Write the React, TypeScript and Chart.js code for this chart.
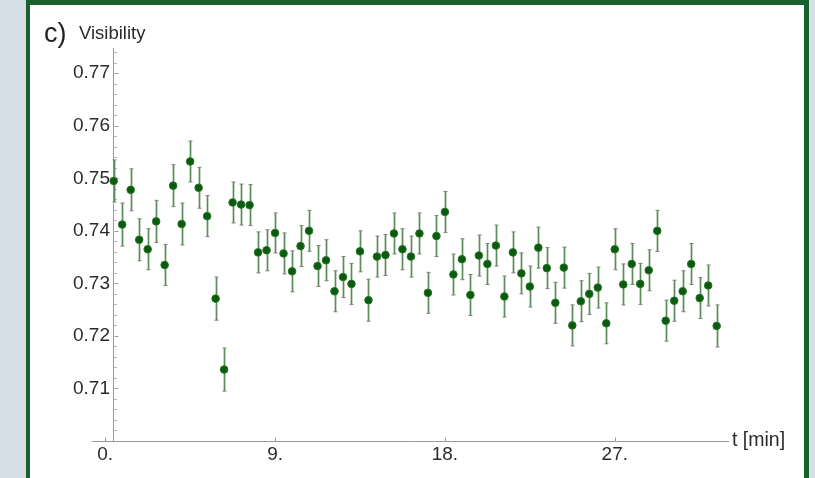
import React, { useEffect, useRef } from "react";
import { Chart, registerables } from "chart.js";

Chart.register(...registerables);

// ---- data ----
const times = [
  0.45, 0.9, 1.35, 1.8, 2.25, 2.7, 3.15, 3.6, 4.05, 4.5,
  4.95, 5.4, 5.85, 6.3, 6.75, 7.2, 7.65, 8.1, 8.55, 9.0,
  9.45, 9.9, 10.35, 10.8, 11.25, 11.7, 12.15, 12.6, 13.05, 13.5,
  13.95, 14.4, 14.85, 15.3, 15.75, 16.2, 16.65, 17.1, 17.55, 18.0,
  18.45, 18.9, 19.35, 19.8, 20.25, 20.7, 21.15, 21.6, 22.05, 22.5,
  22.95, 23.4, 23.85, 24.3, 24.75, 25.2, 25.65, 26.1, 26.55, 27.0,
  27.45, 27.9, 28.35, 28.8, 29.25, 29.7, 30.15, 30.6, 31.05, 31.5,
  31.95, 32.4,
];

const visibility = [
  0.7495, 0.7412, 0.7478, 0.7383, 0.7365, 0.7418, 0.7335, 0.7486, 0.7413, 0.7532,
  0.7482, 0.7428, 0.7271, 0.7136, 0.7454, 0.7450, 0.7449, 0.7359, 0.7363, 0.7396,
  0.7357, 0.7323, 0.7371, 0.7400, 0.7333, 0.7344, 0.7285, 0.7312, 0.7299, 0.7361,
  0.7268, 0.7351, 0.7354, 0.7395, 0.7365, 0.7351, 0.7395, 0.7282, 0.7390, 0.7436,
  0.7317, 0.7346, 0.7278, 0.7353, 0.7337, 0.7372, 0.7275, 0.7359, 0.7319, 0.7294,
  0.7368, 0.7329, 0.7263, 0.7330, 0.7220, 0.7266, 0.7280, 0.7292, 0.7224, 0.7365,
  0.7298, 0.7337, 0.7299, 0.7325, 0.7400, 0.7229, 0.7267, 0.7285, 0.7337, 0.7272,
  0.7296, 0.7219,
];

const errors = [
  0.0040, 0.0041, 0.0040, 0.0040, 0.0039, 0.0040, 0.0039, 0.0040, 0.0040, 0.0039,
  0.0039, 0.0039, 0.0041, 0.0041, 0.0039, 0.0039, 0.0039, 0.0039, 0.0039, 0.0038,
  0.0039, 0.0039, 0.0039, 0.0039, 0.0039, 0.0039, 0.0039, 0.0039, 0.0039, 0.0039,
  0.0040, 0.0039, 0.0039, 0.0039, 0.0039, 0.0039, 0.0039, 0.0039, 0.0039, 0.0039,
  0.0039, 0.0039, 0.0039, 0.0039, 0.0039, 0.0039, 0.0039, 0.0039, 0.0039, 0.0039,
  0.0039, 0.0039, 0.0039, 0.0039, 0.0039, 0.0039, 0.0039, 0.0039, 0.0039, 0.0039,
  0.0039, 0.0039, 0.0039, 0.0039, 0.0039, 0.0039, 0.0039, 0.0039, 0.0039, 0.0039,
  0.0039, 0.0040,
];

const xTickValues = [0, 9, 18, 27];
const xTickLabels = ["0.", "9.", "18.", "27."];
const yTickValues = [0.71, 0.72, 0.73, 0.74, 0.75, 0.76, 0.77];
const yTickLabels = ["0.71", "0.72", "0.73", "0.74", "0.75", "0.76", "0.77"];

const X_MIN = -0.7;
const X_MAX = 33.0;
const Y_MIN = 0.7;
const Y_MAX = 0.7748;
const Y_AXIS_AT = 0.45;

const FONT = "'Liberation Sans', Arial, sans-serif";
const AXIS_COLOR = "#9a9a9a";
const TEXT_COLOR = "#2b2b2b";

const errorBarPlugin = {
  id: "errorBars",
  beforeDatasetsDraw(chart: any) {
    const { ctx, scales } = chart;
    const x = scales.x;
    const y = scales.y;
    ctx.save();
    times.forEach((t, i) => {
      const px = Math.round(x.getPixelForValue(t)) + 0.5;
      const top = y.getPixelForValue(visibility[i] + errors[i]);
      const bot = y.getPixelForValue(visibility[i] - errors[i]);
      ctx.strokeStyle = "#5a8c55";
      ctx.lineWidth = 1.7;
      ctx.beginPath();
      ctx.moveTo(px, top);
      ctx.lineTo(px, bot);
      ctx.stroke();
      ctx.strokeStyle = "#7d7d7d";
      ctx.lineWidth = 1;
      ctx.beginPath();
      ctx.moveTo(px - 2, top);
      ctx.lineTo(px + 2, top);
      ctx.moveTo(px - 2, bot);
      ctx.lineTo(px + 2, bot);
      ctx.stroke();
    });
    ctx.restore();
  },
};

const axisTickPlugin = {
  id: "axisTicks",
  beforeDatasetsDraw(chart: any) {
    const { ctx, scales } = chart;
    const x = scales.x;
    const y = scales.y;
    const ax = Math.round(x.getPixelForValue(Y_AXIS_AT)) + 0.5;
    const ay = Math.round(y.getPixelForValue(Y_MIN)) + 0.5;
    ctx.save();
    ctx.strokeStyle = AXIS_COLOR;
    ctx.lineWidth = 1;
    ctx.beginPath();
    for (let k = 1; k * 0.002 + Y_MIN <= Y_MAX + 1e-9; k++) {
      const v = Y_MIN + k * 0.002;
      const py = Math.round(y.getPixelForValue(v)) + 0.5;
      const major = k % 5 === 0;
      ctx.moveTo(ax, py);
      ctx.lineTo(ax + (major ? 4 : 2), py);
    }
    xTickValues.forEach((v) => {
      const px = Math.round(x.getPixelForValue(v)) + 0.5;
      ctx.moveTo(px, ay);
      ctx.lineTo(px, ay - 4);
    });
    ctx.stroke();
    ctx.restore();
  },
};

const LABEL_AXIS_WIDTH = 40;

export default function App() {
  const canvasRef = useRef<HTMLCanvasElement | null>(null);

  useEffect(() => {
    const canvas = canvasRef.current;
    if (!canvas) return;
    const yTickCallback = (value: any) => {
      const idx = yTickValues.findIndex((v) => Math.abs(v - Number(value)) < 1e-6);
      return idx >= 0 ? yTickLabels[idx] : "";
    };
    const chart = new Chart(canvas, {
      type: "scatter",
      data: {
        datasets: [
          {
            label: "Visibility",
            data: times.map((t, i) => ({ x: t, y: visibility[i] })),
            backgroundColor: "#0a5a10",
            borderColor: "#267526",
            borderWidth: 1,
            pointRadius: 3.8,
            yAxisID: "y",
          },
        ],
      },
      options: {
        responsive: false,
        animation: false,
        devicePixelRatio: 1,
        layout: { padding: { left: 92 - LABEL_AXIS_WIDTH, right: 87, top: 48, bottom: 37 } },
        plugins: {
          legend: { display: false },
          tooltip: { enabled: false },
        },
        scales: {
          x: {
            type: "linear",
            position: { y: Y_MIN } as any,
            min: X_MIN,
            max: X_MAX,
            afterBuildTicks: (scale: any) => {
              scale.ticks = xTickValues.map((v) => ({ value: v }));
            },
            ticks: {
              autoSkip: false,
              maxRotation: 0,
              padding: 2,
              color: TEXT_COLOR,
              font: { family: FONT, size: 19 },
              callback: (value: any) => {
                const idx = xTickValues.indexOf(Number(value));
                return idx >= 0 ? xTickLabels[idx] : "";
              },
            },
            grid: { display: false, drawTicks: false },
            border: { display: true, color: AXIS_COLOR, width: 1 },
          },
          y: {
            type: "linear",
            position: { x: Y_AXIS_AT } as any,
            min: Y_MIN,
            max: Y_MAX,
            afterBuildTicks: (scale: any) => {
              scale.ticks = yTickValues.map((v) => ({ value: v }));
            },
            ticks: { display: false },
            grid: { display: false, drawTicks: false },
            border: { display: true, color: AXIS_COLOR, width: 1 },
          },
          yLabels: {
            type: "linear",
            position: "left",
            min: Y_MIN,
            max: Y_MAX,
            afterBuildTicks: (scale: any) => {
              scale.ticks = yTickValues.map((v) => ({ value: v }));
            },
            afterFit: (scale: any) => {
              scale.width = LABEL_AXIS_WIDTH;
            },
            ticks: {
              autoSkip: false,
              mirror: true,
              crossAlign: "near",
              padding: -19,
              color: TEXT_COLOR,
              font: { family: FONT, size: 19 },
              callback: yTickCallback,
            },
            grid: { display: false, drawTicks: false },
            border: { display: false },
          },
        },
      },
      plugins: [axisTickPlugin, errorBarPlugin],
    });
    return () => chart.destroy();
  }, []);

  return (
    <div
      style={{
        position: "fixed",
        left: 0,
        top: 0,
        width: 815,
        height: 478,
        background: "#d6dee6",
        overflow: "hidden",
        fontFamily: FONT,
      }}
    >
      <div
        style={{
          position: "absolute",
          left: 26,
          top: 0,
          width: 783,
          height: 520,
          background: "#ffffff",
          border: "5px solid #19612c",
          borderLeftWidth: 4,
          boxSizing: "border-box",
        }}
      />
      <canvas
        ref={canvasRef}
        width={815}
        height={478}
        style={{ position: "absolute", left: 0, top: 0, width: 815, height: 478 }}
      />
      <div
        style={{
          position: "absolute",
          left: 44,
          top: 20,
          fontSize: 27,
          lineHeight: "27px",
          color: "#222",
          whiteSpace: "nowrap",
        }}
      >
        c)
      </div>
      <div
        style={{
          position: "absolute",
          left: 79,
          top: 24,
          fontSize: 18.5,
          lineHeight: "18.5px",
          color: TEXT_COLOR,
          whiteSpace: "nowrap",
        }}
      >
        Visibility
      </div>
      <div
        style={{
          position: "absolute",
          left: 732,
          top: 430,
          fontSize: 19.5,
          lineHeight: "19.5px",
          color: TEXT_COLOR,
          whiteSpace: "nowrap",
        }}
      >
        t [min]
      </div>
    </div>
  );
}
